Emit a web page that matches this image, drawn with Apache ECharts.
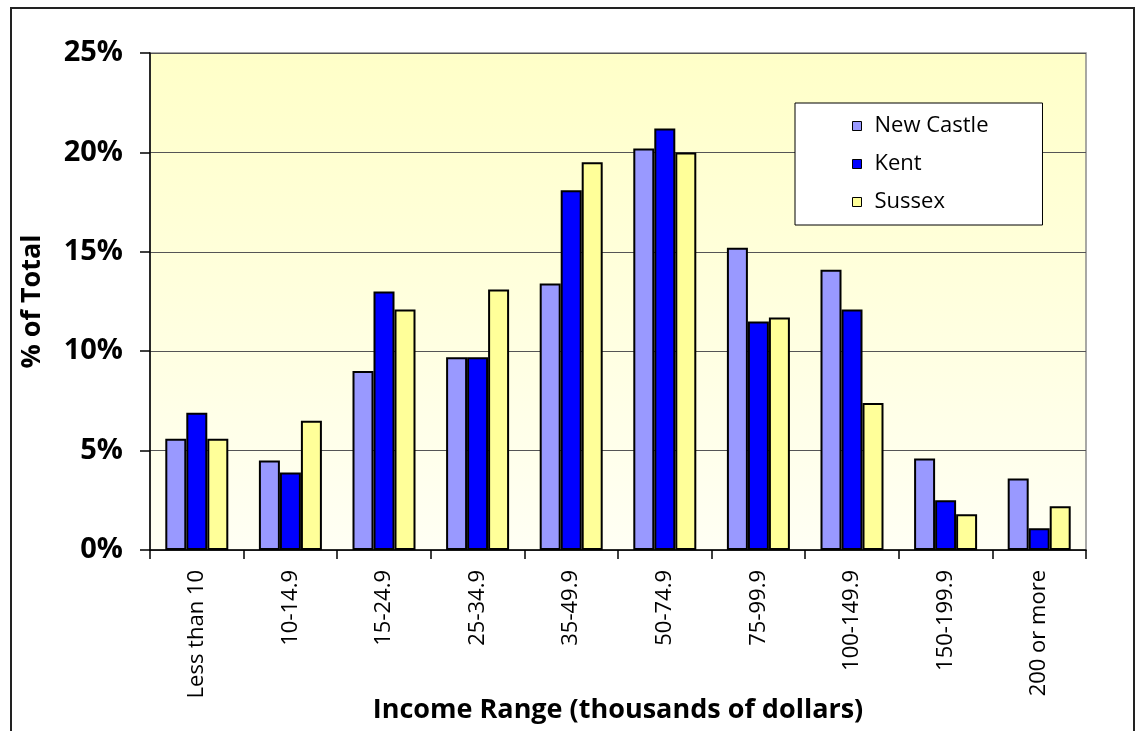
<!DOCTYPE html>
<html>
<head>
<meta charset="utf-8">
<style>
  html, body { margin: 0; padding: 0; background: #ffffff; }
  #chart { width: 1140px; height: 731px; }
</style>
<script src="https://cdn.jsdelivr.net/npm/echarts@6/dist/echarts.min.js"></script>
</head>
<body>
<div id="chart"></div>
<script>
// Household income distribution by county (% of total households)
const categories = ['Less than 10', '10-14.9', '15-24.9', '25-34.9', '35-49.9',
                    '50-74.9', '75-99.9', '100-149.9', '150-199.9', '200 or more'];
const newCastle = [5.6, 4.5, 9.0, 9.7, 13.4, 20.2, 15.2, 14.1, 4.6, 3.6];
const kent      = [6.9, 3.9, 13.0, 9.7, 18.1, 21.2, 11.5, 12.1, 2.5, 1.1];
const sussex    = [5.6, 6.5, 12.1, 13.1, 19.5, 20.0, 11.7, 7.4, 1.8, 2.2];
const yTicks = [0, 5, 10, 15, 20, 25];

const FONT = '"Open Sans", "Noto Sans", sans-serif';

const chart = echarts.init(document.getElementById('chart'), null, { renderer: 'canvas' });

function barSeries(name, data, color) {
  return {
    name: name,
    type: 'bar',
    data: data,
    barWidth: 21,
    barGap: '0%',
    itemStyle: { color: color, borderColor: '#000000', borderWidth: 2 },
    emphasis: { disabled: true }
  };
}

chart.setOption({
  animation: false,
  backgroundColor: '#ffffff',
  textStyle: { fontFamily: FONT },
  graphic: [{
    type: 'rect',
    shape: { x: 11, y: 8, width: 1123, height: 740 },
    style: { fill: 'none', stroke: '#222222', lineWidth: 2 },
    silent: true,
    z: -1
  }],
  grid: {
    left: 150, right: 54, top: 53, bottom: 181,
    outerBoundsMode: 'none',
    containLabel: false,
    show: true,
    borderColor: '#8c8c8c',
    borderWidth: 1.5,
    backgroundColor: {
      type: 'linear', x: 0, y: 0, x2: 0, y2: 1,
      colorStops: [
        { offset: 0, color: '#ffffc8' },
        { offset: 1, color: '#fffff4' }
      ]
    }
  },
  legend: {
    orient: 'vertical',
    left: 795,
    top: 103,
    padding: [12, 54, 12, 57],
    itemGap: 16,
    itemWidth: 9,
    itemHeight: 9,
    icon: 'rect',
    backgroundColor: '#ffffff',
    borderColor: '#000000',
    borderWidth: 1,
    selectedMode: false,
    itemStyle: { borderColor: '#000000', borderWidth: 1 },
    textStyle: { fontFamily: FONT, fontSize: 22, color: '#000000', padding: [0, 0, 0, 8], lineHeight: 22 },
    data: ['New Castle', 'Kent', 'Sussex']
  },
  xAxis: {
    type: 'category',
    data: categories,
    boundaryGap: true,
    name: 'Income Range (thousands of dollars)',
    nameLocation: 'middle',
    nameGap: 147,
    nameMoveOverlap: false,
    nameTextStyle: { fontFamily: FONT, fontSize: 27, fontWeight: 'bold', color: '#000000' },
    axisLine: { show: true, lineStyle: { color: '#000000', width: 1.5 } },
    axisTick: { show: true, alignWithLabel: false, length: 9, lineStyle: { color: '#000000', width: 1.5 } },
    axisLabel: {
      rotate: 90,
      margin: 20,
      interval: 0,
      fontFamily: FONT,
      fontSize: 22,
      color: '#000000'
    },
    splitLine: { show: false }
  },
  yAxis: {
    type: 'value',
    min: 0,
    max: 25,
    interval: 5,
    name: '% of Total',
    nameLocation: 'middle',
    nameGap: 104,
    nameMoveOverlap: false,
    nameRotate: 90,
    nameTextStyle: { fontFamily: FONT, fontSize: 27, fontWeight: 'bold', color: '#000000' },
    axisLine: { show: true, lineStyle: { color: '#000000', width: 1.5 } },
    axisTick: { show: true, inside: false, length: 10, lineStyle: { color: '#000000', width: 1.5 } },
    axisLabel: {
      margin: 27,
      fontFamily: FONT,
      fontSize: 29,
      fontWeight: 'bold',
      color: '#000000',
      formatter: function (v) { return yTicks.indexOf(v) >= 0 ? v + '%' : ''; }
    },
    splitLine: { show: true, lineStyle: { color: '#555555', width: 1 } }
  },
  series: [
    barSeries('New Castle', newCastle, '#9999ff'),
    barSeries('Kent', kent, '#0000ff'),
    barSeries('Sussex', sussex, '#ffff99')
  ]
});
</script>
</body>
</html>
